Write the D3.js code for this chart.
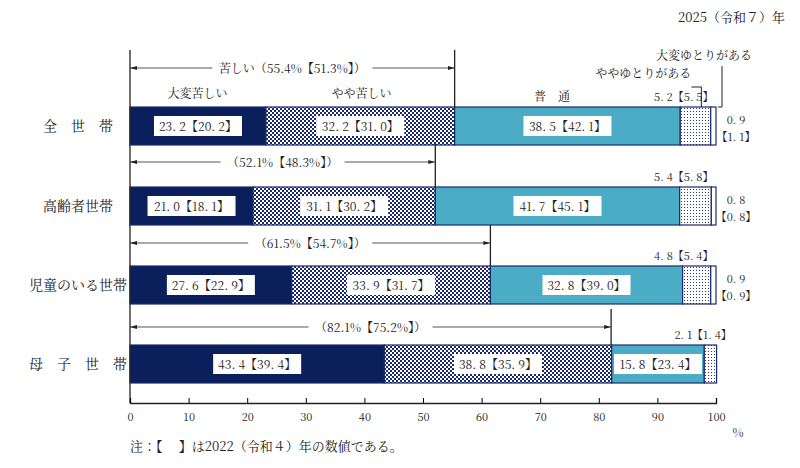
<!DOCTYPE html>
<html><head><meta charset="utf-8">
<script src="https://cdn.jsdelivr.net/npm/d3@7"></script>
<style>body{margin:0;background:#fff}text{font-family:"Noto Serif CJK JP","Noto Sans CJK JP",serif;fill:#222}</style>
</head><body><svg id="c" width="800" height="468"></svg>
<script>
const groups = ["全　世　帯", "高齢者世帯", "児童のいる世帯", "母　子　世　帯"];
const veryHard = [23.2, 21.0, 27.6, 43.4];
const someHard = [32.2, 31.1, 33.9, 38.8];
const normal = [38.5, 41.7, 32.8, 15.8];
const someEasy = [5.2, 5.4, 4.8, 2.1];
const veryEasy = [0.9, 0.8, 0.9, 0.0];
const prevVeryHard = [20.2, 18.1, 22.9, 39.4];
const prevSomeHard = [31.0, 30.2, 31.7, 35.9];
const prevNormal = [42.1, 45.1, 39.0, 23.4];
const prevSomeEasy = [5.5, 5.8, 5.4, 1.4];
const prevVeryEasy = [1.1, 0.8, 0.9, null];
const hardTotal = [55.4, 52.1, 61.5, 82.1];
const prevHardTotal = [51.3, 48.3, 54.7, 75.2];
const ticks = [0,10,20,30,40,50,60,70,80,90,100];

const svg = d3.select("#c");
const x = d3.scaleLinear().domain([0,100]).range([130,716]);
const barTop = [107, 187, 266, 345], bh = 38;
const arrowY = [68, 162, 243, 327];
const f = v => v.toFixed(1).replace(".", ". ");

const defs = svg.append("defs");
const ck = defs.append("pattern").attr("id","ck").attr("width",4).attr("height",4).attr("patternUnits","userSpaceOnUse");
ck.append("rect").attr("width",4).attr("height",4).attr("fill","#fff");
ck.append("rect").attr("width",2).attr("height",2).attr("fill","#1a2a6c");
ck.append("rect").attr("x",2).attr("y",2).attr("width",2).attr("height",2).attr("fill","#1a2a6c");
const dt = defs.append("pattern").attr("id","dt").attr("width",3).attr("height",3).attr("patternUnits","userSpaceOnUse");
dt.append("rect").attr("width",3).attr("height",3).attr("fill","#fff");
dt.append("rect").attr("width",1).attr("height",1).attr("fill","#2a3a80");
const mk = defs.append("marker").attr("id","ar").attr("viewBox","0 0 10 10").attr("refX",10).attr("refY",5)
  .attr("markerWidth",7).attr("markerHeight",7).attr("orient","auto-start-reverse");
mk.append("path").attr("d","M0,2L10,5L0,8Z").attr("fill","#222");

svg.append("text").attr("x",785).attr("y",22).attr("text-anchor","end").attr("font-size",13).text("2025（令和７）年");

const series = [
  {v: veryHard, p: prevVeryHard, fill: "#0a1f5c"},
  {v: someHard, p: prevSomeHard, fill: "url(#ck)"},
  {v: normal, p: prevNormal, fill: "#4bacc6"},
  {v: someEasy, p: prevSomeEasy, fill: "url(#dt)"},
  {v: veryEasy, p: prevVeryEasy, fill: "#fff"}
];

groups.forEach((g, i) => {
  const y0 = barTop[i];
  svg.append("text").attr("x",78).attr("y",y0+bh/2+5).attr("text-anchor","middle").attr("font-size",14).text(g);
  let cum = 0;
  series.forEach((s, k) => {
    const v = s.v[i];
    if (v > 0) {
      svg.append("rect").attr("x",x(cum)).attr("y",y0).attr("width",x(cum+v)-x(cum)).attr("height",bh)
        .attr("fill",s.fill).attr("stroke","#1a2a6c").attr("stroke-width",1.2);
    }
    if (k < 3) {
      const cx = (x(cum)+x(cum+v))/2;
      const lbl = f(v) + "【" + f(s.p[i]) + "】";
      svg.append("rect").attr("x",cx-44).attr("y",y0+9).attr("width",88).attr("height",20).attr("fill","#fff");
      svg.append("text").attr("x",cx).attr("y",y0+24).attr("text-anchor","middle").attr("font-size",12).text(lbl);
    }
    cum += v;
  });
  // some easy label
  svg.append("text").attr("x", i===3 ? x(97.8) : x(94.5)).attr("y",y0-6).attr("text-anchor","middle").attr("font-size",11)
    .text(f(someEasy[i]) + "【" + f(prevSomeEasy[i]) + "】");
  if (veryEasy[i] > 0) {
    svg.append("text").attr("x",x(100)+20).attr("y",y0+17).attr("text-anchor","middle").attr("font-size",11).text(f(veryEasy[i]));
    svg.append("text").attr("x",x(100)+20).attr("y",y0+34).attr("text-anchor","middle").attr("font-size",11).text("【" + f(prevVeryEasy[i]) + "】");
  }
  // hard total marker
  const hx = x(hardTotal[i]);
  svg.append("line").attr("x1",hx).attr("x2",hx).attr("y1",arrowY[i]-18).attr("y2",y0).attr("stroke","#222").attr("stroke-width",1.3);
  const txt = (i===0 ? "苦しい（" : "（") + hardTotal[i].toFixed(1) + "%【" + prevHardTotal[i].toFixed(1) + "%】）";
  const mid = (x(0)+hx)/2, half = i===0 ? 80 : 62;
  svg.append("line").attr("x1",x(0)).attr("x2",mid-half).attr("y1",arrowY[i]).attr("y2",arrowY[i]).attr("stroke","#555").attr("marker-start","url(#ar)");
  svg.append("line").attr("x1",mid+half).attr("x2",hx).attr("y1",arrowY[i]).attr("y2",arrowY[i]).attr("stroke","#555").attr("marker-end","url(#ar)");
  svg.append("text").attr("x",mid).attr("y",arrowY[i]+5).attr("text-anchor","middle").attr("font-size",12).text(txt);
});

svg.append("text").attr("x",x(11.5)).attr("y",98).attr("text-anchor","middle").attr("font-size",12).text("大変苦しい");
svg.append("text").attr("x",x(39.5)).attr("y",98).attr("text-anchor","middle").attr("font-size",12).text("やや苦しい");
svg.append("text").attr("x",x(72)).attr("y",101).attr("text-anchor","middle").attr("font-size",12).text("普　通");
svg.append("text").attr("x",x(95.8)).attr("y",78).attr("text-anchor","end").attr("font-size",12).text("ややゆとりがある");
svg.append("text").attr("x",752).attr("y",60).attr("text-anchor","end").attr("font-size",12).text("大変ゆとりがある");
svg.append("path").attr("d",`M${x(97.5)},107V87H${x(95.8)}`).attr("fill","none").attr("stroke","#222");
svg.append("path").attr("d",`M${x(100)+2},107H${x(100)+6}V66`).attr("fill","none").attr("stroke","#222");

// left vertical line
svg.append("line").attr("x1",x(0)).attr("x2",x(0)).attr("y1",50).attr("y2",403).attr("stroke","#222").attr("stroke-width",1.3);
const ax = svg.append("g").attr("transform","translate(0,403)")
  .call(d3.axisBottom(x).tickValues(ticks).tickSize(-5).tickPadding(10).tickFormat(d3.format("d")));
ax.select(".domain").attr("stroke","#222").attr("stroke-width",1.3);
ax.selectAll("text").attr("font-size",11).style("font-family","'Noto Serif CJK JP',serif");
svg.append("text").attr("x",738).attr("y",437).attr("text-anchor","middle").attr("font-size",12).text("%");
svg.append("text").attr("x",130).attr("y",451).attr("font-size",13).text("注：【　 】は2022（令和４）年の数値である。");
</script></body></html>
